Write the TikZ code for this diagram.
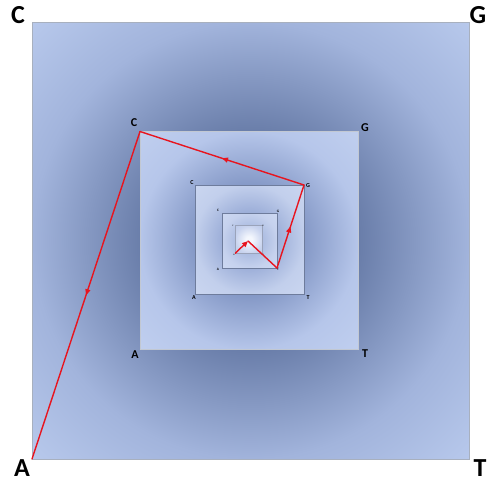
\documentclass[tikz,border=0pt]{standalone}
\usepackage{fontspec}
\setmainfont{Carlito}
\usepackage{xcolor}
\usetikzlibrary{arrows.meta, decorations.markings}
\definecolor{cgrRed}{HTML}{E8141E}
\definecolor{cgrEdge}{HTML}{A8B0BE}
\definecolor{cgrLine}{HTML}{6E7C9C}
\definecolor{zeroIn}{HTML}{6A7EAA}
\definecolor{zeroMid}{HTML}{A2B4DC}
\definecolor{zeroOut}{HTML}{B8C9EC}
\definecolor{oneIn}{HTML}{8498C6}
\definecolor{oneMid}{HTML}{B6C6EA}
\definecolor{oneOut}{HTML}{C0CFEF}
\definecolor{twoIn}{HTML}{9CAED8}
\definecolor{twoMid}{HTML}{C2CFEC}
\definecolor{twoOut}{HTML}{CAD6F0}
\definecolor{threeIn}{HTML}{AEBEE2}
\definecolor{threeMid}{HTML}{C6D2EE}
\definecolor{threeOut}{HTML}{CCD8F2}
\definecolor{fourIn}{HTML}{F4F7FD}
\definecolor{fourMid}{HTML}{C8D3EE}
\definecolor{fourOut}{HTML}{BCCAEA}
% radii follow the half widths of the squares
\pgfdeclareradialshading{lvlzero}{\pgfpoint{0bp}{0bp}}{color(0bp)=(zeroIn); color(109bp)=(zeroIn); color(218bp)=(zeroMid); color(310bp)=(zeroOut)}
\pgfdeclareradialshading{lvlone}{\pgfpoint{0bp}{0bp}}{color(0bp)=(oneIn); color(54bp)=(oneIn); color(109bp)=(oneMid); color(155bp)=(oneOut)}
\pgfdeclareradialshading{lvltwo}{\pgfpoint{0bp}{0bp}}{color(0bp)=(twoIn); color(27bp)=(twoIn); color(54.5bp)=(twoMid); color(77.5bp)=(twoOut)}
\pgfdeclareradialshading{lvlthree}{\pgfpoint{0bp}{0bp}}{color(0bp)=(threeIn); color(14bp)=(threeIn); color(27.5bp)=(threeMid); color(39bp)=(threeOut)}
\pgfdeclareradialshading{lvlfour}{\pgfpoint{0bp}{0bp}}{color(0bp)=(fourIn); color(3bp)=(fourIn); color(13.75bp)=(fourMid); color(19.5bp)=(fourOut)}

\begin{document}
\begin{tikzpicture}[x=1pt, y=-1pt,
          sq/.style={rectangle, inner sep=0pt, outer sep=0pt},
          lbl/.style={inner sep=0pt, font=\bfseries\fontsize{#1}{#1}\selectfont},
          link/.style={draw=cgrRed, line width=1.4pt, line cap=round},
          midarrow/.style={postaction={decorate}, decoration={markings,
              mark=at position 0.5 with {\arrow{Triangle[length=6pt, width=5pt]}}}},
        ]
        \useasboundingbox (0,0) rectangle (490,483);
        % nested squares
        \node[sq, minimum size=437pt] (sq0) at (250.5,240.5) {};
        \node[sq, minimum size=218pt] (sq1) at (249,240.5) {};
        \node[sq, minimum size=109pt] (sq2) at (249.5,239.5) {};
        \node[sq, minimum size=55pt] (sq3) at (249.5,240.5) {};
        \node[sq, minimum size=27.5pt] (sq4) at (249,239.5) {};
        \foreach \i/\shd/\edge in {0/lvlzero/cgrEdge, 1/lvlone/cgrEdge!70!white,
            2/lvltwo/cgrLine, 3/lvlthree/cgrLine, 4/lvlfour/cgrLine!70!white} {
          \begin{scope}
            \clip (sq\i.north west) rectangle (sq\i.south east);
            \node[inner sep=0pt] at (sq\i.center) {\pgfuseshading{\shd}};
          \end{scope}
          \draw[\edge, line width=0.7pt] (sq\i.north west) rectangle (sq\i.south east);
        }

        % corner labels
        \node[lbl=26] (c0) at (18,15) {C};
        \node[lbl=26] (g0) at (478,15) {G};
        \node[lbl=26] (a0) at (22,468) {A};
        \node[lbl=26] (t0) at (480,468) {T};
        \node[lbl=12] (c1) at (134,123) {C};
        \node[lbl=12] (g1) at (365,128) {G};
        \node[lbl=12] (a1) at (135,355) {A};
        \node[lbl=12] (t1) at (365,354) {T};
        \node[lbl=6] (c2) at (192,183) {C};
        \node[lbl=6] (g2) at (308,186) {G};
        \node[lbl=6] (a2) at (194,298) {A};
        \node[lbl=6] (t2) at (308,298) {T};
        \node[lbl=3.5] (c3) at (218,210) {C};
        \node[lbl=3.5] (g3) at (278,211) {G};
        \node[lbl=3.5] (a3) at (218,269) {A};
        \node[lbl=3.5] (t3) at (278,269) {T};
        \node[lbl=2] (c4) at (233,226) {C};
        \node[lbl=2] (g4) at (263,226) {G};
        \node[lbl=2] (a4) at (234,255) {A};
        \node[lbl=2] (t4) at (263,255) {T};

        % path of points
        \coordinate (pk) at (248,241);
        \draw[link, -{Triangle[length=6pt, width=5pt]}] (sq4.south west) -- (pk);
        \draw[link] (pk) -- (sq3.south east);
        \draw[link, midarrow] (sq3.south east) -- (sq2.north east);
        \draw[link, midarrow] (sq2.north east) -- (sq1.north west);
        \draw[link, midarrow] (sq1.north west) -- (sq0.south west);
      \end{tikzpicture}
\end{document}
